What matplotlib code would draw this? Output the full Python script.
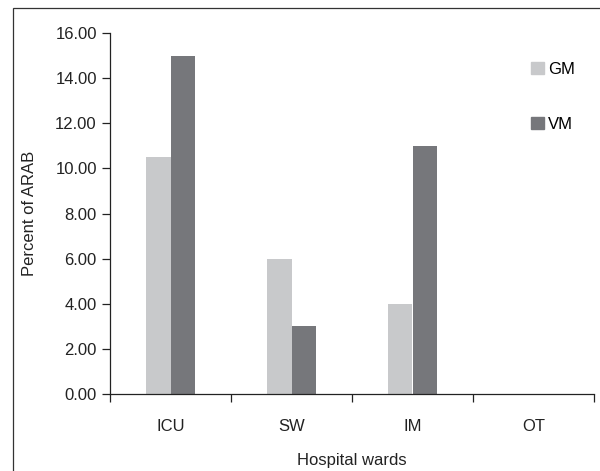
import numpy as np
import matplotlib
matplotlib.use('Agg')
import matplotlib.pyplot as plt
from matplotlib.patches import Rectangle, Patch

plt.rcParams['font.family'] = ['Liberation Sans', 'DejaVu Sans']

wards = ['ICU', 'SW', 'IM', 'OT']
gm = [10.5, 6.0, 4.0, 0.0]
vm = [15.0, 3.0, 11.0, 0.0]
yticks = [0, 2, 4, 6, 8, 10, 12, 14, 16]

gm_color = '#c8c9cb'
vm_color = '#76777b'
fs = 12

W, H = 600, 471
fig = plt.figure(figsize=(6, 4.71), dpi=100)
# outer frame (right and bottom edges fall outside the picture)
fig.patches.append(Rectangle((13/W, -0.1), 1.0, 1 - 8/H + 0.1, transform=fig.transFigure,
                             fill=False, edgecolor='#333333', linewidth=0.9))

left, right, top, bottom = 110, 594, 33, 394
ax = fig.add_axes([left/W, 1 - bottom/H, (right - left)/W, (bottom - top)/H])
x = np.arange(len(wards))
w = 0.2
ax.bar(x - w/2, gm, w, color=gm_color, label='GM')
ax.bar(x + w/2, vm, w, color=vm_color, label='VM')

ax.set_xlim(-0.5, len(wards) - 0.5)
ax.set_ylim(0, 16)
ax.set_yticks(yticks)
ax.set_yticklabels(['%.2f' % v for v in yticks], fontsize=fs, color='#222222')
ax.set_xticks(x)
ax.set_xticklabels(wards, fontsize=fs, color='#222222')
ax.set_xticks(np.arange(len(wards) + 1) - 0.5, minor=True)
ax.tick_params(axis='x', which='major', length=0, pad=18)
ax.tick_params(axis='x', which='minor', length=6, width=0.9, color='#222222')
ax.tick_params(axis='y', length=6, width=0.9, color='#222222', pad=3.5)

for s in ['top', 'right']:
    ax.spines[s].set_visible(False)
for s in ['left', 'bottom']:
    ax.spines[s].set_linewidth(0.9)
    ax.spines[s].set_color('#222222')

fig.text((left + right)/2/W, 1 - 460/H, 'Hospital wards', fontsize=fs,
         ha='center', va='center', color='#222222')
fig.text(30/W, 1 - (top + bottom)/2/H, 'Percent of ARAB', fontsize=fs,
         ha='center', va='center', rotation=90, color='#222222')

handles = [Patch(color=gm_color), Patch(color=vm_color)]
ax.legend(handles, ['GM', 'VM'], loc='upper left', bbox_to_anchor=(531/W, 1 - 62/H),
          bbox_transform=fig.transFigure, frameon=False, fontsize=fs,
          handlelength=0.75, handleheight=0.75, handletextpad=0.25, labelspacing=2.4,
          borderpad=0, borderaxespad=0)

fig.savefig('out.png', dpi=100)
